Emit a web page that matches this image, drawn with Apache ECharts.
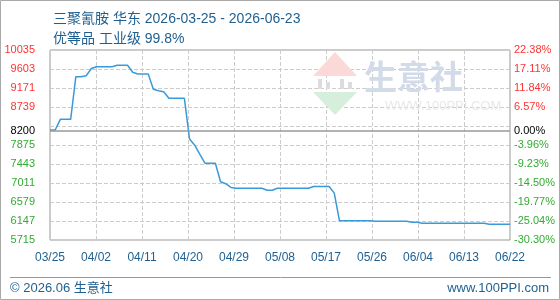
<!DOCTYPE html>
<html>
<head>
<meta charset="utf-8">
<script src="https://cdn.jsdelivr.net/npm/echarts@6/dist/echarts.min.js"></script>
<style>
  html, body { margin: 0; padding: 0; background: #fff; }
  #chart { width: 560px; height: 300px; }
</style>
</head>
<body>
<div id="chart"></div>
<script>
  // 三聚氰胺 华东 daily price, 03/25 .. 06/22 (index = day)
  var prices = [
    8217, 8217, 8459, 8459, 8459, 9428, 9428, 9450, 9614, 9655,
    9655, 9655, 9655, 9687, 9687, 9687, 9530, 9489, 9489, 9489,
    9141, 9110, 9087, 8937, 8937, 8937, 8937, 8010, 7870, 7660,
    7459, 7459, 7459, 7040, 6995, 6910, 6890, 6890, 6890, 6890,
    6890, 6890, 6847, 6847, 6890, 6890, 6890, 6890, 6890, 6890,
    6890, 6931, 6931, 6931, 6931, 6780, 6153, 6153, 6153, 6153,
    6153, 6153, 6153, 6140, 6140, 6140, 6140, 6140, 6140, 6140,
    6117, 6117, 6094, 6094, 6094, 6094, 6094, 6094, 6094, 6094,
    6094, 6094, 6094, 6094, 6094, 6072, 6072, 6072, 6072, 6072
  ];
  var xLabels = ['03/25', '04/02', '04/11', '04/20', '04/29', '05/08', '05/17', '05/26', '06/04', '06/13', '06/22'];
  var yTicks = [5715, 6147, 6579, 7011, 7443, 7875, 8307, 8739, 9171, 9603, 10035];
  var yLabels = [5715, 6147, 6579, 7011, 7443, 7875, 8200, 8739, 9171, 9603, 10035];
  var base = 8200;

  var blue = '#1f5f8f';

  function labelColor(v) {
    v = Number(v);
    if (v > base) return '#ff3333';
    if (v < base) return '#33aa33';
    return '#000';
  }

  var chart = echarts.init(document.getElementById('chart'));
  chart.setOption({
    animation: false,
    title: {
      text: '三聚氰胺 华东 2026-03-25 - 2026-06-23\n优等品 工业级 99.8%',
      left: 48,
      top: 4,
      textStyle: {
        color: blue,
        fontWeight: 'normal',
        fontSize: 14,
        lineHeight: 20,
        fontFamily: 'Liberation Sans, "Noto Sans CJK SC", sans-serif'
      }
    },
    grid: {
      left: 50, right: 50, top: 50, bottom: 60,
      show: true,
      borderColor: '#999',
      borderWidth: 1
    },
    xAxis: {
      type: 'value',
      min: 0,
      max: prices.length - 1,
      interval: (prices.length - 1) / 10,
      axisLine: { show: false },
      axisTick: { show: false },
      axisLabel: {
        color: blue,
        fontSize: 12,
        margin: 12,
        fontFamily: 'Liberation Sans, sans-serif',
        formatter: function (v, i) { return xLabels[i] || ''; }
      },
      splitLine: { show: true, lineStyle: { color: '#ccc', type: 'dashed' } }
    },
    yAxis: [
      {
        type: 'value',
        min: 5715,
        max: 10035,
        axisLine: { show: false },
        axisTick: { show: false, customValues: yTicks },
        axisLabel: {
          customValues: yLabels,
          fontSize: 11,
          margin: 15,
          fontFamily: 'Liberation Sans, sans-serif',
          color: labelColor,
          formatter: function (v) { return String(v); }
        },
        splitLine: { show: true, lineStyle: { color: '#ccc', type: 'dashed' } }
      },
      {
        type: 'value',
        position: 'right',
        min: 5715,
        max: 10035,
        axisLine: { show: false },
        axisTick: { show: false, customValues: yTicks },
        axisLabel: {
          customValues: yLabels,
          fontSize: 11,
          margin: 4,
          fontFamily: 'Liberation Sans, sans-serif',
          color: labelColor,
          formatter: function (v) {
            return ((v / base - 1) * 100).toFixed(2) + '%';
          }
        },
        splitLine: { show: false }
      }
    ],
    series: [
      {
        type: 'line',
        data: prices.map(function (p, i) { return [i, p]; }),
        showSymbol: false,
        lineStyle: { color: '#3a9ad9', width: 1.5 },
        itemStyle: { color: '#3a9ad9' },
        markLine: {
          silent: true,
          symbol: 'none',
          label: { show: false },
          lineStyle: { color: '#999', type: 'solid', width: 1.5 },
          data: [{ yAxis: base }]
        }
      }
    ],
    graphic: [
      // outer frame
      { type: 'rect', shape: { x: 0.5, y: 0.5, width: 559, height: 299 }, style: { fill: 'none', stroke: '#aaa' }, z: 10 },
      // watermark
      { type: 'polygon', shape: { points: [[335, 52], [357, 76], [313, 76]] }, style: { fill: '#fbd9d9' }, z: 1 },
      { type: 'rect', shape: { x: 318, y: 79, width: 4, height: 10 }, style: { fill: '#dcdcdc' }, z: 1 },
      { type: 'rect', shape: { x: 326, y: 82, width: 4, height: 7 }, style: { fill: '#dcdcdc' }, z: 1 },
      { type: 'rect', shape: { x: 340, y: 79, width: 4, height: 10 }, style: { fill: '#dcdcdc' }, z: 1 },
      { type: 'rect', shape: { x: 348, y: 82, width: 4, height: 7 }, style: { fill: '#dcdcdc' }, z: 1 },
      { type: 'polygon', shape: { points: [[313, 92], [357, 92], [335, 115]] }, style: { fill: '#d6efdc' }, z: 1 },
      { type: 'text', style: { text: '生意社', x: 364, y: 60, fill: '#d3dae8', font: 'bold 33px "Noto Sans CJK SC"' }, z: 1 },
      { type: 'text', style: { text: 'WWW.100PPI.COM', x: 385, y: 100, fill: '#e8e8e8', font: '13px Liberation Sans' }, z: 1 },
      // footer
      { type: 'line', shape: { x1: 10, y1: 277.5, x2: 551, y2: 277.5 }, style: { stroke: '#999', lineWidth: 1 } },
      { type: 'text', style: { text: '© 2026.06 生意社', x: 10, y: 288, verticalAlign: 'middle', fill: blue, font: '13px Liberation Sans, "Noto Sans CJK SC"' } },
      { type: 'text', style: { text: 'www.100PPI.com', x: 549, y: 288, align: 'right', verticalAlign: 'middle', fill: blue, font: '13px Liberation Sans' } }
    ]
  });
</script>
</body>
</html>
